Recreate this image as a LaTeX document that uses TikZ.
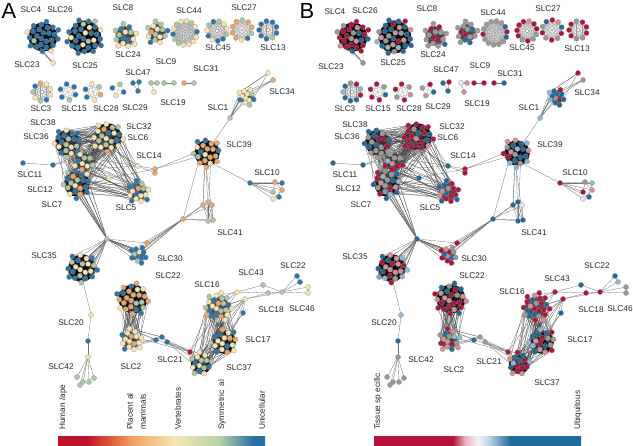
\documentclass[tikz,border=0pt]{standalone}
\usepackage{fontspec}
\setmainfont{Liberation Sans}
\definecolor{cb}{HTML}{2C75A9}
\definecolor{cy}{HTML}{F7E3B0}
\definecolor{cg}{HTML}{A9C9A2}
\definecolor{co}{HTML}{EDA465}
\definecolor{cr}{HTML}{C8102E}
\definecolor{br}{HTML}{B3123A}
\definecolor{bp}{HTML}{D88C98}
\definecolor{bg}{HTML}{9C9898}
\definecolor{bb}{HTML}{1F6A9D}
\definecolor{bl}{HTML}{8DB8D6}
\definecolor{bw}{HTML}{E3E6EE}
\definecolor{gra}{HTML}{C0142C}
\definecolor{grb}{HTML}{DE5F3E}
\definecolor{grc}{HTML}{F0A262}
\definecolor{grd}{HTML}{F5E6B5}
\definecolor{gre}{HTML}{B7D2A6}
\definecolor{grf}{HTML}{2A72A6}
\definecolor{hba}{HTML}{B3123A}
\definecolor{hbb}{HTML}{E7B3BC}
\definecolor{hbc}{HTML}{F6F4F6}
\definecolor{hbd}{HTML}{B4CFE2}
\definecolor{hbe}{HTML}{1F6A9D}
\pgfdeclarehorizontalshading{gradA}{100bp}{color(0bp)=(gra); color(25bp)=(gra); color(32bp)=(gra); color(38bp)=(grb); color(43bp)=(grc); color(53bp)=(grd); color(64bp)=(gre); color(72bp)=(grf); color(100bp)=(grf)}
\pgfdeclarehorizontalshading{gradB}{100bp}{color(0bp)=(hba); color(25bp)=(hba); color(44bp)=(hba); color(47bp)=(hbb); color(50bp)=(hbc); color(53bp)=(hbd); color(58bp)=(hbe); color(100bp)=(hbe)}
\pgfmathdeclarerandomlist{Ablue}{{cb}{cb}{cb}{cb}{cy}{cg}{cb}}
\pgfmathdeclarerandomlist{Amix}{{cb}{cy}{cg}{co}{cb}{cy}}
\pgfmathdeclarerandomlist{Aorange}{{co}{co}{co}{cy}{cb}{cg}{co}}
\pgfmathdeclarerandomlist{Agreen}{{cg}{cg}{cy}{cb}{cy}}
\pgfmathdeclarerandomlist{Ayel}{{cy}{cy}{cg}{co}{cb}{cy}}
\pgfmathdeclarerandomlist{Bred}{{br}{br}{br}{bg}{bb}{bp}}
\pgfmathdeclarerandomlist{Bblue}{{bb}{bb}{bb}{bg}{bp}{br}{bl}}
\pgfmathdeclarerandomlist{Bgrey}{{bg}{bg}{bg}{br}{bb}}
\pgfmathdeclarerandomlist{Bmix}{{br}{bg}{bb}{bp}{bl}{br}{bb}}
\pgfmathdeclarerandomlist{Bredp}{{br}{bp}{bg}{br}}
% cluster: id, x, y, R, n, palA, palB, type (0 dense, 1 ring, 2 medium)
% pass 0: coordinates + edges ; pass 1: nodes
\newcommand\clu[8]{%
  \def\palA{A#6}\def\palB{B#7}%
  \edef\pal{\csname pal\pn\endcsname}%
  \foreach \i in {1,...,#5}{%
    \ifnum#8=1
      \pgfmathsetmacro\px{#2+\pdx+#4*cos(360*\i/#5+20)}%
      \pgfmathsetmacro\py{#3+#4*sin(360*\i/#5+20)}%
    \else
      \pgfmathsetmacro\rr{#4*sqrt((\i-0.5)/#5)}%
      \pgfmathsetmacro\px{#2+\pdx+\rr*cos(\i*137.508)}%
      \pgfmathsetmacro\py{#3+\rr*sin(\i*137.508)}%
    \fi
    \ifnum\passno=0
      \coordinate (\pn-#1-\i) at (\px,\py);
    \else
      \pgfmathrandomitem{\ncol}{\pal}%
      \node[nd,fill=\ncol] (\pn-#1-\i) at (\px,\py) {};
    \fi
  }%
  \ifnum\passno=0
  \ifcase#8
    \fill[black!92] (#2+\pdx,#3) circle[radius=0.85*#4];
    \pgfmathtruncatemacro\nch{3*#5}%
    \foreach \k in {1,...,\nch}{\pgfmathrandominteger{\ia}{1}{#5}\pgfmathrandominteger{\ib}{1}{#5}\draw[ein] (\pn-#1-\ia) -- (\pn-#1-\ib);}%
  \or
    \foreach \i in {1,...,#5}{\foreach \j in {1,...,#5}{\ifnum\j>\i\relax\draw[ering] (\pn-#1-\i) -- (\pn-#1-\j);\fi}}%
  \or
    \fill[black!70] (#2+\pdx,#3) circle[radius=0.72*#4];
    \pgfmathtruncatemacro\nch{3*#5}%
    \foreach \k in {1,...,\nch}{\pgfmathrandominteger{\ia}{1}{#5}\pgfmathrandominteger{\ib}{1}{#5}\draw[ein2] (\pn-#1-\ia) -- (\pn-#1-\ib);}%
  \fi
  \fi
}
\newcommand\sn[5]{%
  \ifnum\passno=0
    \coordinate (\pn-#1) at (#2+\pdx,#3);
  \else
    \def\tmpA{#4}\def\tmpB{#5}\edef\ncol{\csname tmp\pn\endcsname}%
    \node[nd,fill=\ncol] (\pn-#1) at (#2+\pdx,#3) {};
  \fi}
\newcommand\lk[2]{\ifnum\passno=0 \draw[eout] (\pn-#1) -- (\pn-#2);\fi}
\newcommand\sbun[4]{\ifnum\passno=0 \foreach \k in {1,...,#4}{\pgfmathrandominteger{\ib}{1}{#3}\draw[eout] (\pn-#1) -- (\pn-#2-\ib);}\fi}
\newcommand\cbun[5]{\ifnum\passno=0 \foreach \k in {1,...,#5}{\pgfmathrandominteger{\ia}{1}{#2}\pgfmathrandominteger{\ib}{1}{#4}\draw[edk] (\pn-#1-\ia) -- (\pn-#3-\ib);}\fi}
\newcommand\netw{%
\pgfmathsetseed{11}%
\let\pdx\pdxm
\clu{c4}{43}{37}{17}{26}{blue}{red}{0}
\sn{c4t}{53}{63}{cy}{bg}
\sbun{c4t}{c4}{26}{5}
\clu{c25}{85}{37}{19}{31}{blue}{blue}{0}
\clu{c24}{125}{36}{13}{16}{green}{grey}{2}
\clu{c8}{157}{33}{12}{15}{mix}{grey}{2}
\clu{c44}{185}{33}{12}{14}{green}{grey}{1}
\clu{c45}{217}{31}{10}{11}{green}{redp}{1}
\clu{c27}{242}{30}{10}{10}{orange}{red}{1}
\clu{c13}{268}{30}{9}{9}{blue}{red}{1}
\clu{c3}{42}{92}{9}{9}{yel}{blue}{1}
\clu{c15}{68}{92}{8}{6}{blue}{red}{1}
\clu{c28}{93}{92}{8}{6}{yel}{redp}{1}
\clu{c29}{118}{90}{6}{4}{blue}{blue}{1}
\sn{s47a}{133}{83}{cb}{bb}\sn{s47b}{139}{82}{cb}{br}\sn{s47c}{138}{91}{cb}{bb}
\lk{s47a}{s47c}\lk{s47b}{s47c}
\sn{s19a}{151}{83}{cg}{bw}\sn{s19b}{157}{83}{cg}{bp}\sn{s19c}{154}{92}{cy}{bp}
\lk{s19a}{s19c}\lk{s19a}{s19b}
\sn{s9a}{164}{83}{cg}{br}\sn{s9b}{174}{83}{cg}{br}\lk{s9a}{s9b}
\sn{s31a}{184}{83}{co}{br}\sn{s31b}{194}{83}{cg}{bb}\lk{s31a}{s31b}
\clu{c1}{247}{97}{9}{12}{green}{blue}{2}
\sn{s34a}{268}{73}{cy}{br}\sn{s34b}{273}{80}{co}{bg}
\sbun{s34a}{c1}{12}{3}\sbun{s34b}{c1}{12}{3}
\sn{h1}{230}{118}{cg}{bl}\sbun{h1}{c1}{12}{8}
\clu{c36}{68}{143}{15}{20}{blue}{grey}{0}
\clu{c32}{108}{137}{16}{22}{yel}{red}{0}
\clu{c12m}{84}{162}{10}{9}{yel}{mix}{0}
\clu{c12}{77}{184}{15}{20}{mix}{mix}{0}
\cbun{c36}{20}{c32}{22}{45}\cbun{c36}{20}{c12m}{9}{30}\cbun{c32}{22}{c12m}{9}{35}
\cbun{c12m}{9}{c12}{20}{30}\cbun{c36}{20}{c12}{20}{20}\cbun{c32}{22}{c12}{20}{30}
\sn{s11a}{23}{163}{cb}{bb}\sn{s11b}{53}{165}{cb}{bb}\lk{s11a}{s11b}\sbun{s11b}{c12m}{9}{2}
\sn{s14a}{138}{166}{cy}{bb}\sn{s14b}{155}{169}{co}{br}\sn{s14c}{155}{173}{co}{br}
\sn{s12y}{109}{178}{cy}{bb}
\sbun{s14a}{c32}{22}{3}\sbun{s14a}{c12m}{9}{2}\lk{s14a}{s14b}\lk{s14a}{s14c}
\sbun{s12y}{c12}{20}{3}\sbun{s12y}{c36}{20}{2}\lk{s12y}{s14b}
\clu{c5}{138}{192}{12}{16}{yel}{red}{2}
\cbun{c32}{22}{c5}{16}{16}\cbun{c12}{20}{c5}{16}{16}\cbun{c12m}{9}{c5}{16}{8}
\clu{c39}{207}{153}{15}{20}{orange}{blue}{0}
\sbun{s14b}{c39}{20}{2}\sbun{h1}{c39}{20}{1}
\sn{h10}{250}{183}{cb}{br}\sbun{h10}{c39}{20}{1}
\sn{s10a}{275}{182}{co}{bg}\sn{s10b}{282}{183}{cb}{bl}\sn{s10c}{282}{190}{co}{bp}
\sn{s10d}{273}{192}{cg}{br}\sn{s10e}{279}{197}{cb}{bb}\sn{s10f}{273}{199}{cy}{bw}
\lk{h10}{s10a}\lk{h10}{s10b}\lk{h10}{s10c}\lk{h10}{s10d}\lk{h10}{s10e}\lk{h10}{s10f}
\lk{s10a}{s10d}\lk{s10b}{s10e}\lk{s10c}{s10f}\lk{s10a}{s10c}
\sn{s41a}{203}{205}{co}{bb}\sn{s41b}{208}{202}{cg}{bb}\sn{s41c}{212}{205}{co}{bw}
\sn{s41d}{208}{221}{cg}{bb}\sn{s41e}{213}{220}{cg}{bb}\sn{h41}{183}{219}{co}{bb}
\lk{h41}{s41a}\lk{h41}{s41b}\lk{h41}{s41c}\lk{h41}{s41d}\lk{h41}{s41e}
\lk{s41a}{s41d}\lk{s41b}{s41e}\lk{s41c}{s41e}\lk{s41a}{s41e}\lk{s41b}{s41d}\lk{s41c}{s41d}
\sbun{s41a}{c39}{20}{2}\sbun{s41d}{c39}{20}{2}\sbun{s41e}{c39}{20}{1}\sbun{h41}{c39}{20}{1}
\sn{H}{107}{239}{cg}{bb}
\sbun{H}{c12}{20}{16}
\clu{c30}{139}{255}{9}{12}{blue}{red}{2}
\sn{s30}{147}{243}{co}{br}
\sbun{H}{c30}{12}{14}\lk{H}{s30}\sbun{h41}{c30}{12}{6}\lk{h41}{s30}
\clu{c35}{82}{268}{16}{22}{blue}{blue}{0}
\sbun{H}{c35}{22}{14}
\sn{s20a}{91}{315}{cy}{bl}\sn{s20b}{88}{341}{cb}{bb}\sn{s20c}{88}{357}{cy}{bg}
\sbun{s20a}{c35}{22}{1}\lk{s20a}{s20b}\lk{s20b}{s20c}
\sn{s42a}{77}{377}{cg}{bg}\sn{s42b}{83}{382}{cg}{bg}\sn{s42c}{89}{382}{cg}{bg}
\sn{s42d}{94}{378}{cg}{bg}\sn{s42e}{80}{385}{cg}{bg}
\lk{s20c}{s42a}\lk{s20c}{s42b}\lk{s20c}{s42c}\lk{s20c}{s42d}\lk{s20c}{s42e}
\let\pdx\pdxb
\clu{c22}{133}{299}{17}{25}{orange}{red}{0}
\clu{c2}{131}{340}{12}{16}{yel}{blue}{2}
\cbun{c22}{25}{c2}{16}{40}
\sn{s21a}{156}{340}{cb}{bb}\sn{s21b}{162}{337}{cb}{bg}\sn{s21c}{167}{342}{cb}{bg}
\sbun{s21a}{c2}{16}{3}\sbun{s21b}{c2}{16}{3}\lk{s21a}{s21b}\lk{s21b}{s21c}
\sn{sr}{190}{352}{cr}{br}
\lk{s21c}{sr}\lk{s21b}{sr}\sbun{sr}{c2}{16}{2}
\clu{c16}{218}{307}{15}{24}{yel}{red}{2}
\clu{c17}{224}{342}{14}{18}{mix}{blue}{0}
\clu{c37}{201}{364}{12}{15}{green}{mix}{0}
\sbun{sr}{c37}{15}{4}\sbun{sr}{c16}{24}{2}\sbun{s21c}{c37}{15}{3}
\cbun{c16}{24}{c17}{18}{35}\cbun{c17}{18}{c37}{15}{25}\cbun{c16}{24}{c37}{15}{15}
\sn{s43a}{237}{292}{cy}{br}\sn{s43b}{245}{299}{cy}{br}\sn{s43c}{263}{285}{cg}{bb}
\sn{s43d}{268}{293}{cg}{br}\sn{s43e}{282}{292}{cg}{br}
\sn{s22a}{297}{276}{cb}{bb}\sn{s22b}{300}{282}{cb}{bl}\sn{s22c}{308}{287}{cy}{bg}\sn{s22d}{308}{293}{cy}{bg}
\sn{s18}{243}{313}{cb}{bb}
\sbun{s43a}{c16}{24}{4}\sbun{s43b}{c16}{24}{4}\sbun{s43b}{c17}{18}{3}\sbun{s18}{c17}{18}{2}
\lk{s18}{s43b}\lk{s43a}{s43c}\lk{s43b}{s43d}\lk{s43a}{s43d}\lk{s43c}{s43e}\lk{s43d}{s43e}\lk{s43b}{s43e}
\lk{s43e}{s22a}\lk{s43e}{s22b}\lk{s43e}{s22c}\lk{s43e}{s22d}\lk{s22a}{s22b}\lk{s22c}{s22d}
}
\begin{document}
\begin{tikzpicture}[x=1bp,y=-1bp,
  nd/.style={circle,inner sep=0pt,minimum size=5.2bp,draw=black!45,line width=0.2bp},
  ein/.style={black,line width=0.25bp},
  ein2/.style={black!75,line width=0.2bp},
  ering/.style={black!40,line width=0.2bp},
  eout/.style={black!55,line width=0.3bp},
  edk/.style={black!70,line width=0.25bp},
  lab/.style={font=\fontsize{8.3}{9}\selectfont,text=black!85,inner sep=0pt},
  blab/.style={font=\fontsize{8.3}{9}\selectfont,text=black!85,inner sep=0pt,rotate=90,anchor=west},
  big/.style={font=\fontsize{22}{22}\selectfont,inner sep=0pt}]
\fill[white] (0,0) rectangle (633,446);
\useasboundingbox (0,0) rectangle (633,446);
\def\pn{A}\def\pdxm{0}\def\pdxb{0}
\def\passno{0}\netw
\def\passno{1}\netw
\def\pn{B}\def\pdxm{310}\def\pdxb{318}
\def\passno{0}\netw
\def\passno{1}\netw
\node[big] (pa) at (9,11) {A};
\node[big] (pb) at (307,11) {B};
% labels A
\node[lab] (la4) at (31,10) {SLC4};
\node[lab] (la26) at (60,10) {SLC26};
\node[lab] (la8) at (123,8) {SLC8};
\node[lab] (la44) at (189,11) {SLC44};
\node[lab] (la27) at (244,8) {SLC27};
\node[lab] (la23) at (27,65) {SLC23};
\node[lab] (la25) at (85,66) {SLC25};
\node[lab] (la24) at (128,55) {SLC24};
\node[lab] (la45) at (218,48) {SLC45};
\node[lab] (la13) at (273,48) {SLC13};
\node[lab] (la9) at (166,62) {SLC9};
\node[lab] (la31) at (206,69) {SLC31};
\node[lab] (la47) at (138,73) {SLC47};
\node[lab] (la3) at (41,109) {SLC3};
\node[lab] (la15) at (74,109) {SLC15};
\node[lab] (la28) at (106,109) {SLC28};
\node[lab] (la29) at (135,108) {SLC29};
\node[lab] (la19) at (173,103) {SLC19};
\node[lab] (la1) at (218,108) {SLC1};
\node[lab] (la34) at (282,92) {SLC34};
\node[lab] (la38) at (43,123) {SLC38};
\node[lab] (la36) at (36,137) {SLC36};
\node[lab] (la32) at (139,127) {SLC32};
\node[lab] (la6) at (138,138) {SLC6};
\node[lab] (la39) at (239,145) {SLC39};
\node[lab] (la14) at (149,156) {SLC14};
\node[lab] (la11) at (30,175) {SLC11};
\node[lab] (la12) at (40,190) {SLC12};
\node[lab] (la7) at (52,205) {SLC7};
\node[lab] (la5) at (126,208) {SLC5};
\node[lab] (la10) at (267,173) {SLC10};
\node[lab] (la41) at (230,233) {SLC41};
\node[lab] (la35) at (44,256) {SLC35};
\node[lab] (la30) at (170,259) {SLC30};
\node[lab] (la22a) at (168,276) {SLC22};
\node[lab] (la43) at (251,273) {SLC43};
\node[lab] (la22b) at (293,266) {SLC22};
\node[lab] (la16) at (207,285) {SLC16};
\node[lab] (la20) at (71,323) {SLC20};
\node[lab] (la18) at (271,310) {SLC18};
\node[lab] (la46) at (302,309) {SLC46};
\node[lab] (la17) at (258,340) {SLC17};
\node[lab] (la21) at (170,360) {SLC21};
\node[lab] (la2) at (131,367) {SLC2};
\node[lab] (la42) at (61,367) {SLC42};
\node[lab] (la37) at (239,368) {SLC37};
% labels B
\node[lab] (lb4) at (335,12) {SLC4};
\node[lab] (lb26) at (365,11) {SLC26};
\node[lab] (lb8) at (427,9) {SLC8};
\node[lab] (lb44) at (493,13) {SLC44};
\node[lab] (lb27) at (548,9) {SLC27};
\node[lab] (lb23) at (331,67) {SLC23};
\node[lab] (lb25) at (393,63) {SLC25};
\node[lab] (lb24) at (433,55) {SLC24};
\node[lab] (lb45) at (522,48) {SLC45};
\node[lab] (lb13) at (577,49) {SLC13};
\node[lab] (lb9) at (480,66) {SLC9};
\node[lab] (lb47) at (446,70) {SLC47};
\node[lab] (lb31) at (510,74) {SLC31};
\node[lab] (lb3) at (345,109) {SLC3};
\node[lab] (lb15) at (378,109) {SLC15};
\node[lab] (lb28) at (409,109) {SLC28};
\node[lab] (lb29) at (438,107) {SLC29};
\node[lab] (lb19) at (477,104) {SLC19};
\node[lab] (lb1) at (529,108) {SLC1};
\node[lab] (lb34) at (587,93) {SLC34};
\node[lab] (lb38) at (355,125) {SLC38};
\node[lab] (lb36) at (347,137) {SLC36};
\node[lab] (lb32) at (452,127) {SLC32};
\node[lab] (lb6) at (448,138) {SLC6};
\node[lab] (lb39) at (550,145) {SLC39};
\node[lab] (lb14) at (463,156) {SLC14};
\node[lab] (lb11) at (345,175) {SLC11};
\node[lab] (lb12) at (348,189) {SLC12};
\node[lab] (lb7) at (361,205) {SLC7};
\node[lab] (lb5) at (430,208) {SLC5};
\node[lab] (lb10) at (575,173) {SLC10};
\node[lab] (lb41) at (534,233) {SLC41};
\node[lab] (lb35) at (355,257) {SLC35};
\node[lab] (lb30) at (474,259) {SLC30};
\node[lab] (lb22a) at (472,276) {SLC22};
\node[lab] (lb43) at (557,279) {SLC43};
\node[lab] (lb22b) at (597,266) {SLC22};
\node[lab] (lb16) at (512,292) {SLC16};
\node[lab] (lb18) at (591,310) {SLC18};
\node[lab] (lb46) at (620,309) {SLC46};
\node[lab] (lb20) at (384,323) {SLC20};
\node[lab] (lb17) at (580,340) {SLC17};
\node[lab] (lb42) at (421,360) {SLC42};
\node[lab] (lb21) at (489,362) {SLC21};
\node[lab] (lb2) at (454,370) {SLC2};
\node[lab] (lb37) at (547,383) {SLC37};
% colour bars
\shade[shading=gradA] (58,436) rectangle (265,446);
\shade[shading=gradB] (374,436) rectangle (581,446);
\node[blab] (ta1) at (63,430) {Human /ape};
\node[blab] (ta2) at (130,430) {Placent al};
\node[blab] (ta3) at (143,430) {mammals};
\node[blab] (ta4) at (178,430) {Vertebrates};
\node[blab] (ta5) at (222,430) {Symmetric\ \ al};
\node[blab] (ta6) at (262,430) {Unicellular};
\node[blab] (tb1) at (378,430) {Tissue sp ecific};
\node[blab] (tb2) at (578,430) {Ubiquitous};
\end{tikzpicture}
\end{document}
